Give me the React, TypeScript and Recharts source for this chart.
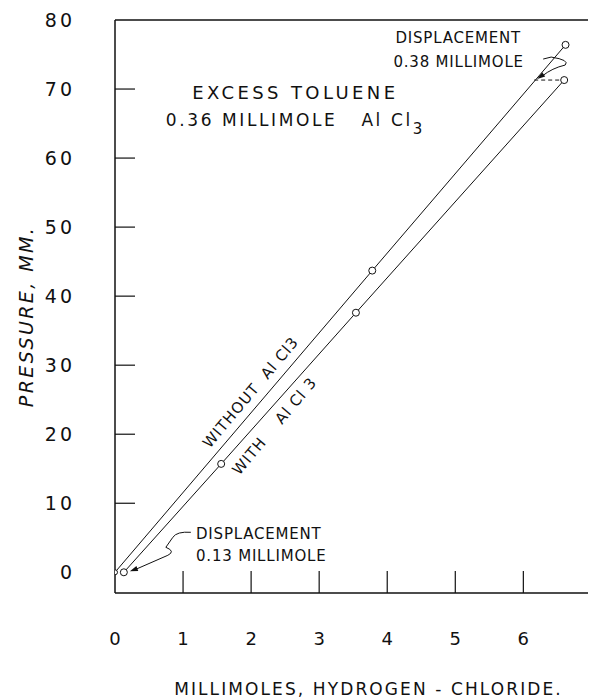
import { ComposedChart, Line, XAxis, YAxis, ReferenceLine, ReferenceDot } from 'recharts'

// pressure (mm) vs. millimoles HCl
const withoutAlCl3 = [
  { x: 0, y: 0 },
  { x: 3.78, y: 43.7 },
  { x: 6.62, y: 76.4 },
]
const withAlCl3 = [
  { x: 0.13, y: 0 },
  { x: 1.56, y: 15.7 },
  { x: 3.54, y: 37.6 },
  { x: 6.6, y: 71.3 },
]
const xTicks = [0, 1, 2, 3, 4, 5, 6]
const yTicks = [0, 10, 20, 30, 40, 50, 60, 70, 80]

const FONT = '"DejaVu Sans", sans-serif'
const INK = '#111'

const XTick = ({ x, y, payload }: any) => (
  <g>
    {payload.value !== 0 ? <line x1={x} x2={x} y1={y} y2={y - 22} stroke={INK} strokeWidth={1.2} /> : null}
    <text x={x} y={y + 52} textAnchor="middle" fontFamily={FONT} fontSize={18} fill={INK}>
      {payload.value}
    </text>
  </g>
)

const YTick = ({ x, y, payload }: any) => (
  <g>
    {payload.value > 0 && payload.value < 80 ? (
      <line x1={x} x2={x + 20} y1={y} y2={y} stroke={INK} strokeWidth={1.2} />
    ) : null}
    <text x={x - 40} y={y + 7} textAnchor="end" fontFamily={FONT} fontSize={19} letterSpacing={3} fill={INK}>
      {payload.value}
    </text>
  </g>
)

const arrowHead = (tx: number, ty: number, fx: number, fy: number) => {
  const a = Math.atan2(ty - fy, tx - fx)
  const l = 8
  const w = 2.6
  const bx = tx - l * Math.cos(a)
  const by = ty - l * Math.sin(a)
  const px = -Math.sin(a) * w
  const py = Math.cos(a) * w
  return `${tx},${ty} ${bx + px},${by + py} ${bx - px},${by - py}`
}

const textStyle = { fontFamily: FONT, fill: INK }

const HeaderNote = ({ cx, cy }: any) => (
  <g>
    <text x={cx} y={cy} textAnchor="middle" fontSize={18} letterSpacing={3.4} {...textStyle}>
      EXCESS TOLUENE
    </text>
    <text x={cx} y={cy + 27} textAnchor="middle" fontSize={17} letterSpacing={2.6} {...textStyle}>
      0.36 MILLIMOLE{'\u00a0\u00a0\u00a0'}Al Cl
      <tspan dy={8} fontSize={15}>3</tspan>
    </text>
  </g>
)

const TopDisplacement = ({ cx, cy }: any) => (
  <g>
    <text x={cx} y={cy} fontSize={15} letterSpacing={0.8} {...textStyle}>
      DISPLACEMENT
    </text>
    <text x={cx - 2} y={cy + 24} fontSize={15} letterSpacing={0.8} {...textStyle}>
      0.38 MILLIMOLE
    </text>
  </g>
)

const LowDisplacement = ({ cx, cy }: any) => (
  <g>
    <text x={cx} y={cy} fontSize={15} letterSpacing={0.8} {...textStyle}>
      DISPLACEMENT
    </text>
    <text x={cx} y={cy + 22} fontSize={15} letterSpacing={0.8} {...textStyle}>
      0.13 MILLIMOLE
    </text>
  </g>
)

// leader near the top point of the lower curve
const TopLeader = ({ cx, cy }: any) => (
  <g fill="none" stroke={INK} strokeWidth={1}>
    <line x1={cx - 30} y1={cy} x2={cx - 5} y2={cy} strokeDasharray="4 3" />
    <path d={`M ${cx - 21} ${cy - 21} L ${cx - 13} ${cy - 23} Q ${cx + 6} ${cy - 20} ${cx + 1} ${cy - 15} Q ${cx - 12} ${cy - 12} ${cx - 22} ${cy - 4}`} />
    <polygon points={arrowHead(cx - 27, cy - 1, cx - 20, cy - 6)} fill={INK} stroke="none" />
  </g>
)

// leader near the origin
const LowLeader = ({ cx, cy }: any) => (
  <g fill="none" stroke={INK} strokeWidth={1}>
    <path d={`M ${cx + 67} ${cy - 40} Q ${cx + 53} ${cy - 41} ${cx + 49} ${cy - 35} L ${cx + 42} ${cy - 25} Q ${cx + 52} ${cy - 21} ${cx + 44} ${cy - 17} L ${cx + 12} ${cy - 3}`} />
    <polygon points={arrowHead(cx + 6, cy - 1, cx + 14, cy - 4)} fill={INK} stroke="none" />
  </g>
)

const RotLabel = ({ cx, cy, children }: any) => (
  <text
    x={cx}
    y={cy}
    textAnchor="middle"
    fontSize={15}
    letterSpacing={1}
    transform={`rotate(-50 ${cx} ${cy})`}
    {...textStyle}
  >
    {children}
  </text>
)

const OpenDot = ({ cx, cy, payload }: any) => (
  <circle cx={cx} cy={cy} r={payload.x === 0 ? 2.5 : 3.5} fill="#fff" stroke={INK} strokeWidth={1} />
)

export default function App() {
  return (
    <div style={{ position: 'absolute', left: 0, top: 0, background: '#fff' }}>
      <ComposedChart width={589} height={699} margin={{ top: 20, right: 1, left: 0, bottom: 0 }}>
        <XAxis
          type="number"
          dataKey="x"
          domain={[0, 6.95]}
          ticks={xTicks}
          allowDataOverflow
          height={106}
          tickSize={0}
          tickMargin={0}
          tickLine={false}
          axisLine={{ stroke: INK, strokeWidth: 1.5 }}
          tick={<XTick />}
          interval={0}
          label={{
            value: 'MILLIMOLES,  HYDROGEN - CHLORIDE.',
            position: 'insideBottom',
            offset: 4,
            dx: 17,
            style: { fontFamily: FONT, fontSize: 17, letterSpacing: 2.1, fill: INK },
          }}
        />
        <YAxis
          type="number"
          dataKey="y"
          domain={[-3, 80]}
          ticks={yTicks}
          allowDataOverflow
          width={115}
          tickSize={0}
          tickMargin={0}
          tickLine={false}
          axisLine={{ stroke: INK, strokeWidth: 1.5 }}
          tick={<YTick />}
          interval={0}
          label={{
            value: 'PRESSURE,  MM.',
            angle: -90,
            position: 'insideLeft',
            offset: 0,
            dx: 26,
            dy: 10,
            style: { fontFamily: FONT, fontSize: 19, fontStyle: 'italic', letterSpacing: 2.4, fill: INK, textAnchor: 'middle' },
          }}
        />
        <ReferenceLine y={80} stroke={INK} strokeWidth={1.5} />
        <Line
          data={withoutAlCl3}
          dataKey="y"
          type="linear"
          stroke={INK}
          strokeWidth={1}
          dot={<OpenDot />}
          isAnimationActive={false}
        />
        <Line
          data={withAlCl3}
          dataKey="y"
          type="linear"
          stroke={INK}
          strokeWidth={1}
          dot={<OpenDot />}
          isAnimationActive={false}
        />
        <ReferenceDot x={2.65} y={68.5} r={0} ifOverflow="visible" shape={<HeaderNote />} />
        <ReferenceDot x={4.12} y={76.7} r={0} ifOverflow="visible" shape={<TopDisplacement />} />
        <ReferenceDot x={1.19} y={4.75} r={0} ifOverflow="visible" shape={<LowDisplacement />} />
        <ReferenceDot x={6.6} y={71.3} r={0} ifOverflow="visible" shape={<TopLeader />} />
        <ReferenceDot x={0.13} y={0} r={0} ifOverflow="visible" shape={<LowLeader />} />
        <ReferenceDot x={2.05} y={25.6} r={0} ifOverflow="visible" shape={<RotLabel>WITHOUT{'\u00a0\u00a0'}Al Cl3</RotLabel>} />
        <ReferenceDot x={2.4} y={20.7} r={0} ifOverflow="visible" shape={<RotLabel>WITH{'\u00a0\u00a0\u00a0\u00a0'}Al Cl 3</RotLabel>} />
      </ComposedChart>
    </div>
  )
}
